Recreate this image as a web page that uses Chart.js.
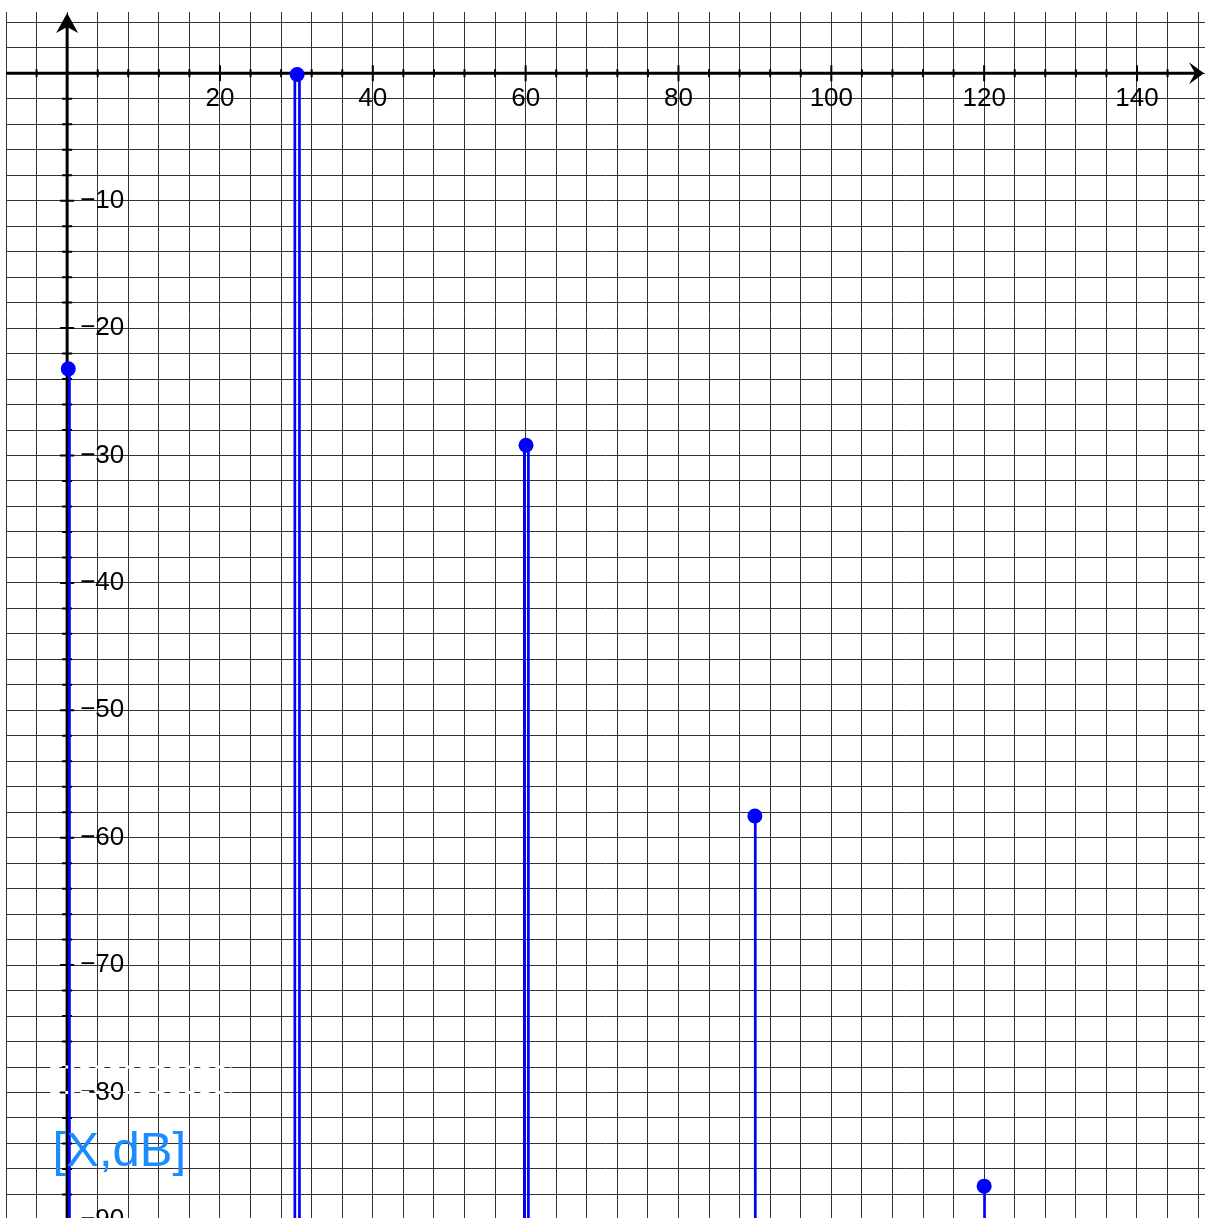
<!DOCTYPE html>
<html>
<head>
<meta charset="utf-8">
<script src="https://cdn.jsdelivr.net/npm/chart.js@4/dist/chart.umd.min.js"></script>
<style>
  html, body { margin: 0; padding: 0; background: #fff; }
  #wrap { width: 1205px; height: 1218px; position: relative; }
</style>
</head>
<body>
<div id="wrap"><canvas id="c"></canvas></div>
<script>
// ---- data ----
const peakX  = [0.15, 30.1, 60.05, 90, 120];
const peakDb = [-23.2, -0.1, -29.2, -58.3, -87.35];
const stemX   = [0.3, 29.8, 30.4, 59.83, 60.36, 90.05, 120.05];
const stemTop = [-23.2, -0.1, -0.1, -29.2, -29.2, -58.3, -87.35];
const xTickLabels = [20, 40, 60, 80, 100, 120, 140];
const yTickLabels = [-10, -20, -30, -40, -50, -60, -70, -80, -90];
const axisLabel = '[X,dB]';

const X_MIN = -8, X_MAX = 148.9, Y_MIN = -89.85, Y_MAX = 4.81;
const X_GRID = 4, Y_GRID = 2;

const pointData = peakX.map((x, i) => ({x, y: peakDb[i]}));
const stemData = [];
stemX.forEach((x, i) => {
  stemData.push({x, y: stemTop[i]});
  stemData.push({x, y: Y_MIN - 20});
  stemData.push({x, y: null});
});

function gridTicks(min, max, step) {
  const t = [];
  for (let v = Math.ceil(min / step) * step; v <= max + 1e-9; v += step) t.push({value: v});
  return t;
}
const fmt = v => (v < 0 ? '\u2212' + Math.abs(v) : String(v));

const axesPlugin = {
  id: 'geoAxes',
  beforeDatasetsDraw(chart) {
    const {ctx, chartArea: a, scales: {x, y}} = chart;
    const x0 = x.getPixelForValue(0), y0 = y.getPixelForValue(0);
    ctx.save();
    ctx.strokeStyle = '#000';
    ctx.fillStyle = '#000';
    // axis lines
    ctx.lineWidth = 3;
    ctx.beginPath();
    ctx.moveTo(a.left, y0); ctx.lineTo(a.right - 6, y0);
    ctx.moveTo(x0, a.bottom); ctx.lineTo(x0, a.top + 6);
    ctx.stroke();
    // arrow heads
    const R = a.right - 1, T = a.top + 1;
    ctx.beginPath();
    ctx.moveTo(R, y0); ctx.lineTo(R - 15, y0 - 11); ctx.lineTo(R - 9, y0); ctx.lineTo(R - 15, y0 + 11); ctx.closePath();
    ctx.fill();
    ctx.beginPath();
    ctx.moveTo(x0, T); ctx.lineTo(x0 - 11, T + 20); ctx.lineTo(x0, T + 14); ctx.lineTo(x0 + 11, T + 20); ctx.closePath();
    ctx.fill();
    // tick marks
    ctx.lineWidth = 2;
    ctx.beginPath();
    for (let v = -4; v < X_MAX - 2; v += X_GRID) {
      if (v === 0) continue;
      const px = x.getPixelForValue(v);
      const h = v % 20 === 0 ? 8 : 4;
      ctx.moveTo(px, y0 - h); ctx.lineTo(px, y0 + h);
    }
    for (let v = -2; v >= Y_MIN - 2; v -= Y_GRID) {
      const py = y.getPixelForValue(v);
      const w = v % 10 === 0 ? 7 : 5;
      ctx.moveTo(x0 - w, py); ctx.lineTo(x0 + w, py);
    }
    ctx.stroke();
    // tick labels
    ctx.font = '26px "Liberation Sans", Arial, sans-serif';
    ctx.textAlign = 'center';
    ctx.textBaseline = 'middle';
    xTickLabels.forEach(v => ctx.fillText(fmt(v), x.getPixelForValue(v), y0 + 26));
    ctx.textAlign = 'left';
    yTickLabels.forEach(v => ctx.fillText(fmt(v), x0 + 13, y.getPixelForValue(v)));
    // white dashed artefact around the -80 label
    ctx.strokeStyle = '#fff';
    ctx.lineWidth = 3;
    ctx.setLineDash([9, 6]);
    ctx.beginPath();
    [-78, -80].forEach(v => {
      const py = y.getPixelForValue(v);
      ctx.moveTo(x.getPixelForValue(-2.2), py); ctx.lineTo(x.getPixelForValue(21.5), py);
    });
    ctx.stroke();
    ctx.restore();
  },
  afterDatasetsDraw(chart) {
    const {ctx, scales: {x, y}} = chart;
    ctx.save();
    ctx.fillStyle = '#1a8cff';
    ctx.font = '49px "Liberation Sans", Arial, sans-serif';
    ctx.textAlign = 'left';
    ctx.textBaseline = 'alphabetic';
    ctx.fillText(axisLabel, x.getPixelForValue(-1.9), y.getPixelForValue(-85.8));
    ctx.restore();
  }
};

new Chart(document.getElementById('c'), {
  type: 'scatter',
  data: {
    datasets: [
      {
        label: 'peaks',
        data: pointData,
        backgroundColor: '#0000ff',
        borderColor: '#0000ff',
        pointRadius: 7.5,
        pointBorderWidth: 0,
        showLine: false
      },
      {
        label: 'stems',
        data: stemData,
        borderColor: '#0000ff',
        borderWidth: 2.7,
        pointRadius: 0,
        showLine: true,
        spanGaps: false,
        fill: false
      }
    ]
  },
  options: {
    responsive: true,
    maintainAspectRatio: false,
    animation: false,
    events: [],
    layout: { autoPadding: false, padding: { left: 6, top: 12, right: 0, bottom: 0 } },
    plugins: { legend: { display: false }, tooltip: { enabled: false } },
    scales: {
      x: {
        type: 'linear', min: X_MIN, max: X_MAX,
        afterBuildTicks: s => { s.ticks = gridTicks(X_MIN, X_MAX, X_GRID); },
        ticks: { display: false },
        border: { display: false },
        grid: { color: '#333', lineWidth: 1, drawTicks: false }
      },
      y: {
        type: 'linear', min: Y_MIN, max: Y_MAX,
        afterBuildTicks: s => { s.ticks = gridTicks(Y_MIN, Y_MAX, Y_GRID); },
        ticks: { display: false },
        border: { display: false },
        grid: { color: '#333', lineWidth: 1, drawTicks: false }
      }
    }
  },
  plugins: [axesPlugin]
});
</script>
</body>
</html>
